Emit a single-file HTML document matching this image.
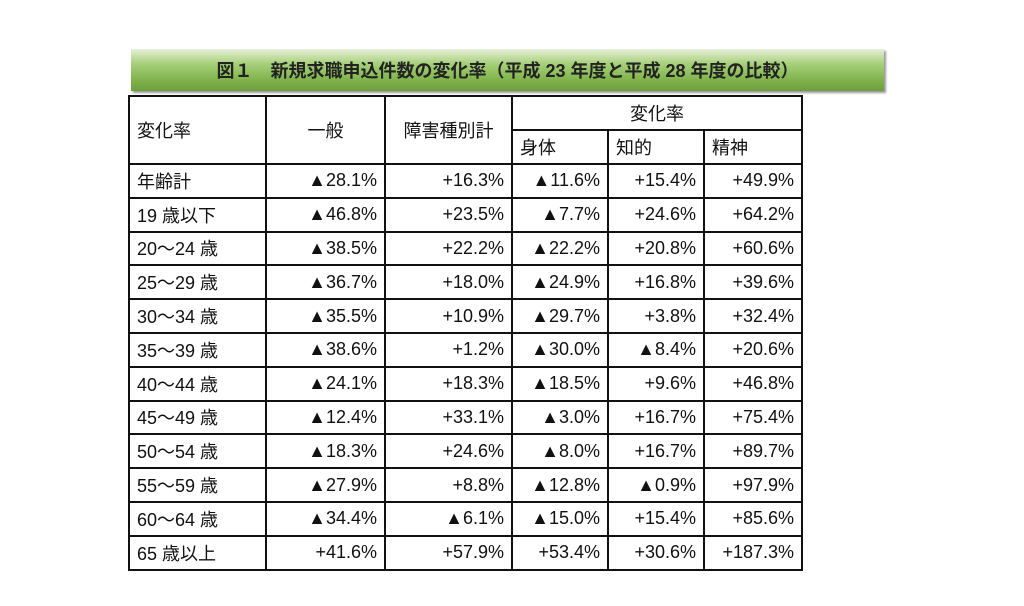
<!DOCTYPE html>
<html><head><meta charset="utf-8"><style>
body{margin:0;width:1024px;height:606px;background:#fff;position:relative;overflow:hidden;font-family:"Liberation Sans","Noto Sans CJK JP",sans-serif;color:#111}
#title{position:absolute;left:131px;top:49px;width:753px;height:42px;background:linear-gradient(#e6efd9 0%,#a7d07a 35%,#7fb24a 75%,#6e9e3e 100%);box-shadow:2px 2px 2px #999;text-align:center;font-size:18px;line-height:44px;font-weight:bold;color:#222}
table{position:absolute;left:128px;top:95px;border-collapse:collapse;font-size:18px}
td{border:2px solid #111;padding:0 7px;height:30px;box-sizing:border-box}
td.n{text-align:right}
</style></head><body>
<div id="title">図１　新規求職申込件数の変化率（平成 23 年度と平成 28 年度の比較）</div>
<table>
<colgroup><col style="width:137px"><col style="width:119px"><col style="width:127px"><col style="width:96px"><col style="width:96px"><col style="width:98px"></colgroup>
<tr style="height:34px"><td rowspan="2">変化率</td><td rowspan="2" style="text-align:center">一般</td><td rowspan="2" style="text-align:center">障害種別計</td><td colspan="3" style="text-align:center">変化率</td></tr>
<tr style="height:34px"><td>身体</td><td>知的</td><td>精神</td></tr>
<tbody id="tb"></tbody>
</table>
<script>
const ages=["年齢計","19 歳以下","20～24 歳","25～29 歳","30～34 歳","35～39 歳","40～44 歳","45～49 歳","50～54 歳","55～59 歳","60～64 歳","65 歳以上"];
const general=["▲28.1%","▲46.8%","▲38.5%","▲36.7%","▲35.5%","▲38.6%","▲24.1%","▲12.4%","▲18.3%","▲27.9%","▲34.4%","+41.6%"];
const disTotal=["+16.3%","+23.5%","+22.2%","+18.0%","+10.9%","+1.2%","+18.3%","+33.1%","+24.6%","+8.8%","▲6.1%","+57.9%"];
const physical=["▲11.6%","▲7.7%","▲22.2%","▲24.9%","▲29.7%","▲30.0%","▲18.5%","▲3.0%","▲8.0%","▲12.8%","▲15.0%","+53.4%"];
const intellectual=["+15.4%","+24.6%","+20.8%","+16.8%","+3.8%","▲8.4%","+9.6%","+16.7%","+16.7%","▲0.9%","+15.4%","+30.6%"];
const mental=["+49.9%","+64.2%","+60.6%","+39.6%","+32.4%","+20.6%","+46.8%","+75.4%","+89.7%","+97.9%","+85.6%","+187.3%"];
const tb=document.getElementById('tb');
ages.forEach((a,i)=>{
  const tr=document.createElement('tr');
  tr.style.height='33.8px';
  
  
  [a,general[i],disTotal[i],physical[i],intellectual[i],mental[i]].forEach((v,j)=>{
    const td=document.createElement('td');
    td.textContent=v;
    if(j>0)td.className='n';
    
    
    tr.appendChild(td);
  });
  tb.appendChild(tr);
});
</script>
</body></html>
